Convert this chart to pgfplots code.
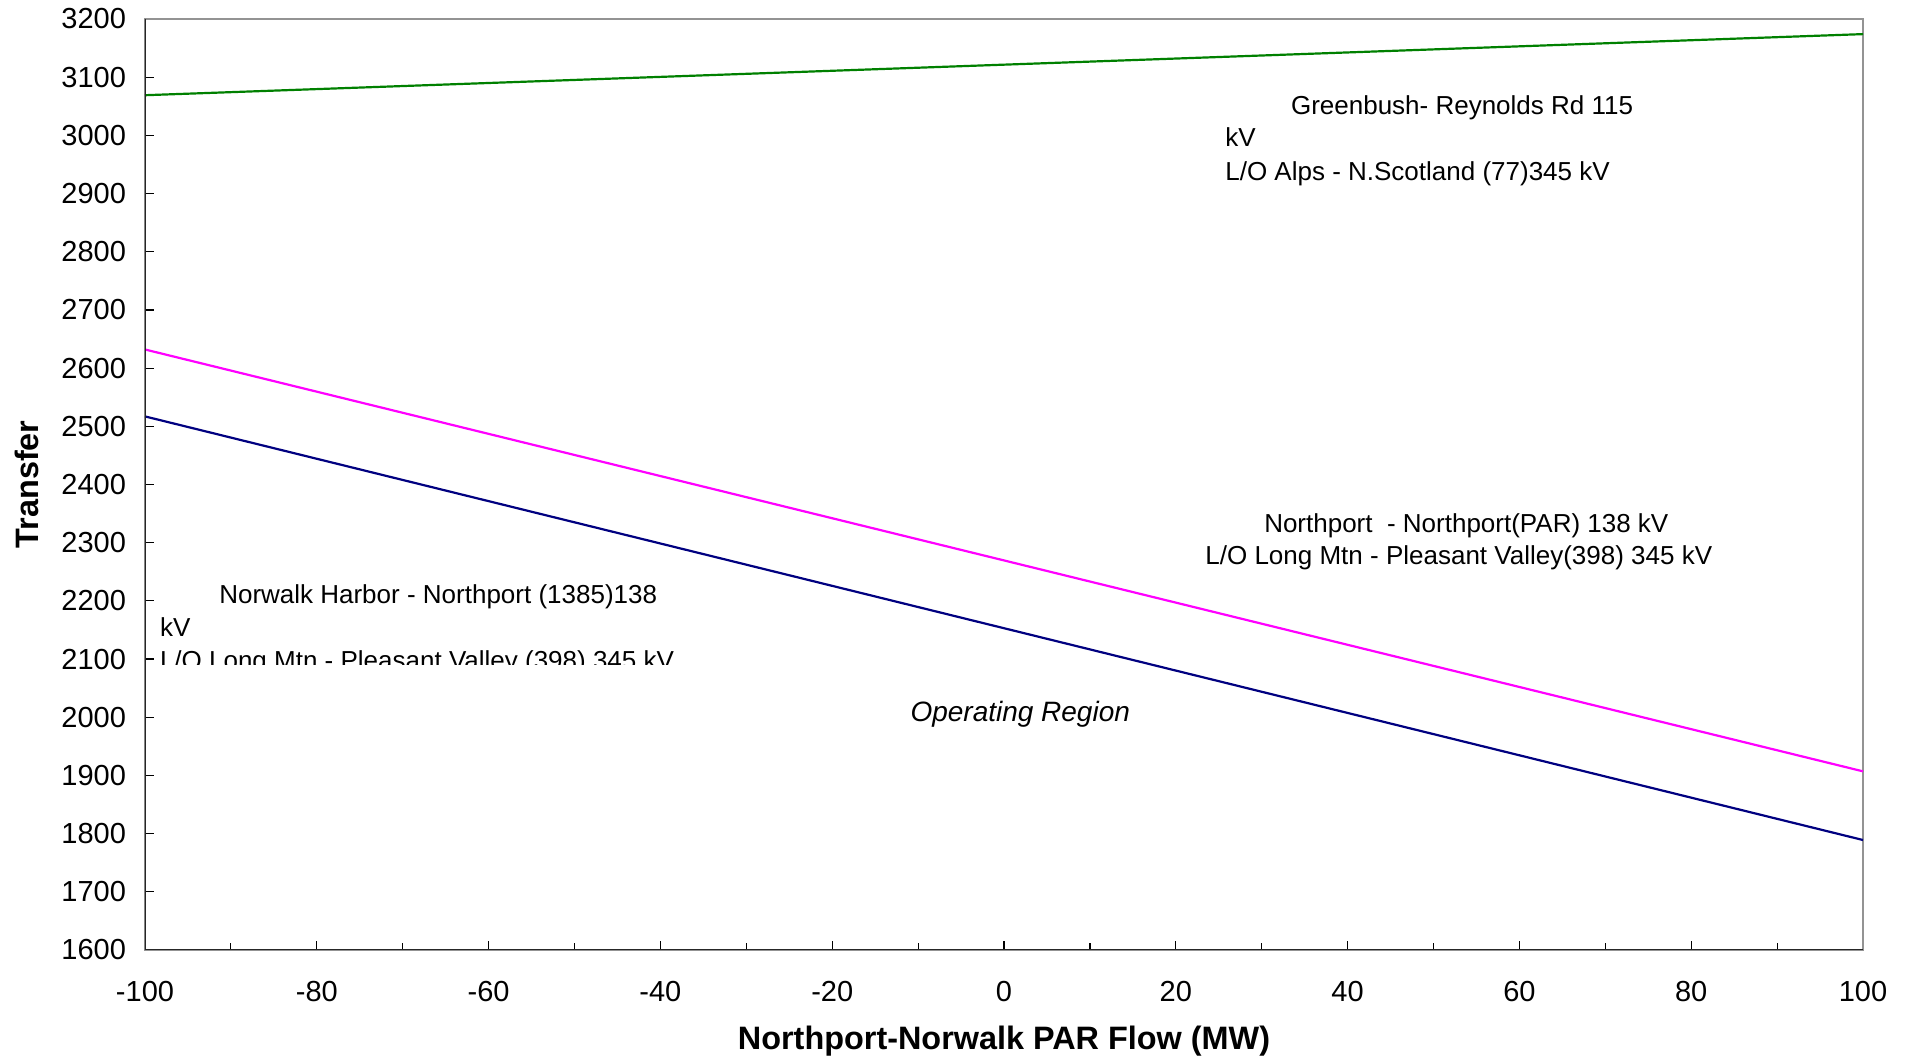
\documentclass[border=0pt]{standalone}
\usepackage{fontspec}
\setmainfont{Liberation Sans}
\usepackage{pgfplots}
\pgfplotsset{compat=1.18}
\definecolor{mgreen}{HTML}{008000}
\definecolor{mmag}{HTML}{FF00FF}
\definecolor{mnavy}{HTML}{000080}
\begin{document}
\begin{tikzpicture}
\path[use as bounding box] (-72.5pt,-54pt) rectangle (882pt,475pt);
\begin{axis}[
  at={(0pt,0pt)}, anchor=south west,
  scale only axis, width=859pt, height=465.5pt,
  xmin=-100, xmax=100, ymin=1600, ymax=3200,
  xtick={-100,-80,...,100}, minor xtick={-90,-70,...,90},
  ytick={1600,1700,...,3200},
  tick align=inside, xtick pos=left, ytick pos=left,
  major tick length=4.5pt, minor tick length=3.3pt,
  tick style={black, line width=0.6pt},
  axis line style={draw=gray!85, line width=1pt},
  /pgf/number format/assume math mode=true,
  /pgf/number format/set thousands separator={},
  ticklabel style={font=\fontsize{14.5}{17}\selectfont},
  xticklabel style={yshift=-12pt},
  yticklabel style={xshift=-6pt},
  xlabel={Northport-Norwalk PAR Flow (MW)}, ylabel={Transfer},
  label style={font=\bfseries\fontsize{16.2}{19}\selectfont},
  xlabel style={at={(axis description cs:0.5,-0.0976)}, anchor=center},
  ylabel style={at={(axis description cs:-0.0687,0.5)}, anchor=center},
]
\addplot[mgreen, line width=1.1pt] coordinates {(-100,3069) (100,3174)};
\addplot[mmag, line width=1.1pt] coordinates {(-100,2632) (100,1907)};
\addplot[mnavy, line width=1.1pt] coordinates {(-100,2517) (100,1789)};
\draw[black!85, line width=1pt] (rel axis cs:0,1) -- (rel axis cs:0,0) -- (rel axis cs:1,0);
\begin{scope}[every node/.style={font=\fontsize{13}{15}\selectfont, anchor=base west, inner sep=0pt}]
\node at (axis cs:33.37,3036.2) {Greenbush- Reynolds Rd 115};
\node at (axis cs:25.72,2980.1) {kV};
\node at (axis cs:25.72,2922.6) {L/O Alps - N.Scotland (77)345 kV};
\node at (axis cs:30.25,2317.8) {Northport\ \ - Northport(PAR) 138 kV};
\node at (axis cs:23.40,2263.0) {L/O Long Mtn - Pleasant Valley(398) 345 kV};
\node at (axis cs:-91.4,2195.8) {Norwalk Harbor - Northport (1385)138};
\node at (axis cs:-98.3,2138) {kV};
\node[font=\itshape\fontsize{14}{16}\selectfont, anchor=base] at (axis cs:1.89,1992.3) {Operating Region};
\end{scope}
\begin{scope}
\clip (axis cs:-100,2089.8) rectangle (axis cs:0,2300);
\node[font=\fontsize{13}{15}\selectfont, anchor=base west, inner sep=0pt] at (axis cs:-98.3,2081.5) {L/O Long Mtn - Pleasant Valley (398) 345 kV};
\end{scope}
\end{axis}
\end{tikzpicture}
\end{document}
